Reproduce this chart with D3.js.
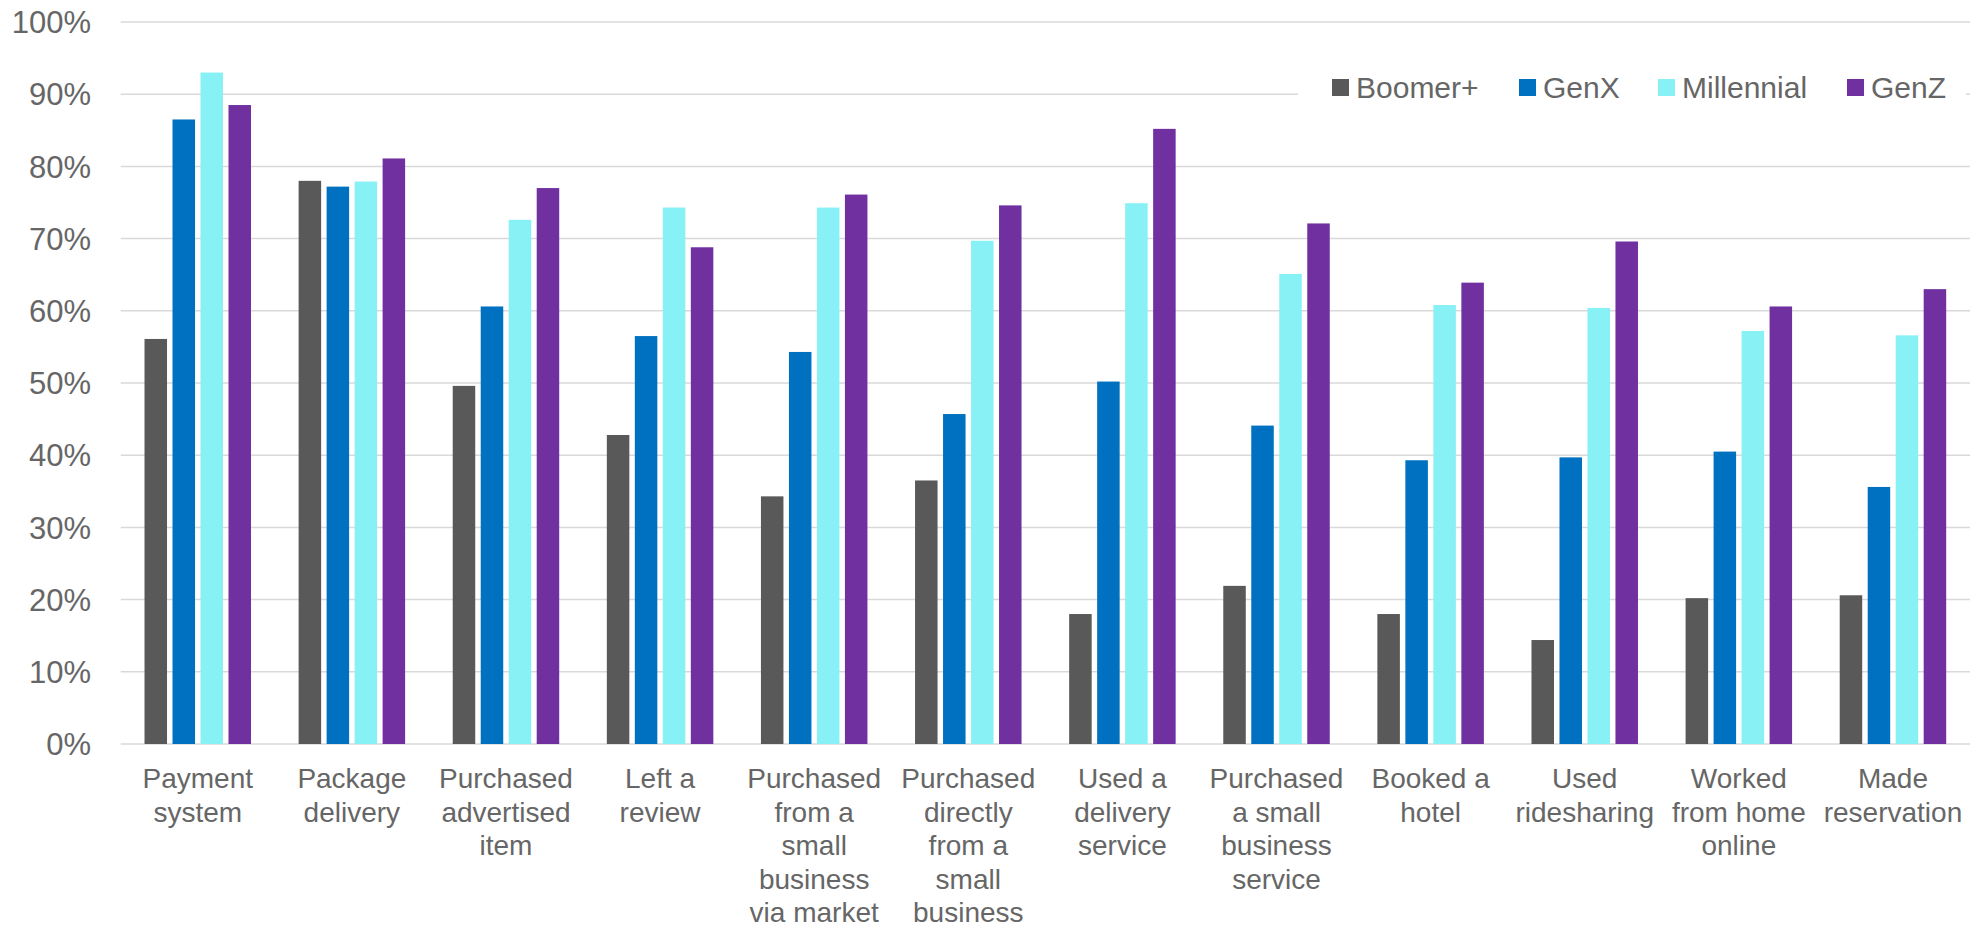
<!DOCTYPE html>
<html>
<head>
<meta charset="utf-8">
<script src="https://cdn.jsdelivr.net/npm/d3@7"></script>
<style>
  html, body { margin: 0; padding: 0; background: #ffffff; }
  svg { display: block; font-family: "Liberation Sans", Arial, sans-serif; }
</style>
</head>
<body>
<svg id="chart" width="1982" height="927"></svg>
<script>
// Online activity by generation (share of respondents)
const categories = [
  "Payment system", "Package delivery", "Purchased advertised item", "Left a review",
  "Purchased from a small business via market", "Purchased directly from a small business",
  "Used a delivery service", "Purchased a small business service", "Booked a hotel",
  "Used ridesharing", "Worked from home online", "Made reservation"
];
// Wrapped label lines for each category
const categoryLines = [
  ["Payment", "system"],
  ["Package", "delivery"],
  ["Purchased", "advertised", "item"],
  ["Left a", "review"],
  ["Purchased", "from a", "small", "business", "via market"],
  ["Purchased", "directly", "from a", "small", "business"],
  ["Used a", "delivery", "service"],
  ["Purchased", "a small", "business", "service"],
  ["Booked a", "hotel"],
  ["Used", "ridesharing"],
  ["Worked", "from home", "online"],
  ["Made", "reservation"]
];
const seriesNames = ["Boomer+", "GenX", "Millennial", "GenZ"];
const boomer     = [56.1, 78.0, 49.6, 42.8, 34.3, 36.5, 18.0, 21.9, 18.0, 14.4, 20.2, 20.6];
const genX       = [86.5, 77.2, 60.6, 56.5, 54.3, 45.7, 50.2, 44.1, 39.3, 39.7, 40.5, 35.6];
const millennial = [93.0, 77.9, 72.6, 74.3, 74.3, 69.7, 74.9, 65.1, 60.8, 60.4, 57.2, 56.6];
const genZ       = [88.5, 81.1, 77.0, 68.8, 76.1, 74.6, 85.2, 72.1, 63.9, 69.6, 60.6, 63.0];
const tickValues = [0, 10, 20, 30, 40, 50, 60, 70, 80, 90, 100];
const tickLabels = ["0%", "10%", "20%", "30%", "40%", "50%", "60%", "70%", "80%", "90%", "100%"];

const seriesValues = [boomer, genX, millennial, genZ];
const colors = ["#595959", "#0070C0", "#87F1F6", "#7030A0"];
const textColor = "#666666";

const svg = d3.select("#chart");
const plotLeft = 120.7, plotRight = 1970, plotTop = 22, plotBottom = 744;

const y = d3.scaleLinear().domain([0, 100]).range([plotBottom, plotTop]);
const x0 = d3.scaleBand().domain(categories).range([plotLeft, plotRight])
  .paddingInner(0.309).paddingOuter(0.1545);
const x1 = d3.scaleBand().domain(seriesNames).range([0, x0.bandwidth()])
  .paddingInner(0.196).paddingOuter(0);
const color = d3.scaleOrdinal().domain(seriesNames).range(colors);

// Horizontal gridlines
svg.append("g").selectAll("line").data(tickValues).join("line")
  .attr("x1", plotLeft).attr("x2", plotRight)
  .attr("y1", d => y(d)).attr("y2", d => y(d))
  .attr("stroke", "#d9d9d9").attr("stroke-width", 1.5);

// Y axis tick labels
svg.append("g").selectAll("text").data(tickValues).join("text")
  .attr("x", 91).attr("y", d => y(d))
  .attr("dy", "0.36em")
  .attr("text-anchor", "end")
  .attr("font-size", 31)
  .attr("fill", textColor)
  .text((d, i) => tickLabels[i]);

// Grouped bars
const groups = svg.append("g").selectAll("g").data(categories).join("g")
  .attr("transform", c => `translate(${x0(c)},0)`);
groups.selectAll("rect")
  .data((c, ci) => seriesNames.map((s, si) => ({ s, v: seriesValues[si][ci] })))
  .join("rect")
  .attr("x", d => x1(d.s))
  .attr("width", x1.bandwidth())
  .attr("y", d => y(d.v))
  .attr("height", d => y(0) - y(d.v))
  .attr("fill", d => color(d.s));

// Category labels
const catLabels = svg.append("g").selectAll("text").data(categories).join("text")
  .attr("x", c => x0(c) + x0.bandwidth() / 2)
  .attr("y", 788)
  .attr("text-anchor", "middle")
  .attr("font-size", 28)
  .attr("fill", textColor);
catLabels.each(function (c, i) {
  d3.select(this).selectAll("tspan").data(categoryLines[i]).join("tspan")
    .attr("x", x0(c) + x0.bandwidth() / 2)
    .attr("dy", (d, j) => j === 0 ? 0 : 33.5)
    .text(d => d);
});

// Legend (white box over the gridlines)
const legend = svg.append("g");
legend.append("rect")
  .attr("x", 1298).attr("y", 68).attr("width", 668).attr("height", 40)
  .attr("fill", "#ffffff");
const legendX = [1332, 1519, 1658, 1847];
const items = legend.selectAll("g").data(seriesNames).join("g")
  .attr("transform", (d, i) => `translate(${legendX[i]},79)`);
items.append("rect")
  .attr("width", 17).attr("height", 17)
  .attr("fill", d => color(d));
items.append("text")
  .attr("x", 24).attr("y", 8.5).attr("dy", "0.36em")
  .attr("font-size", 30)
  .attr("fill", textColor)
  .text(d => d);
</script>
</body>
</html>
